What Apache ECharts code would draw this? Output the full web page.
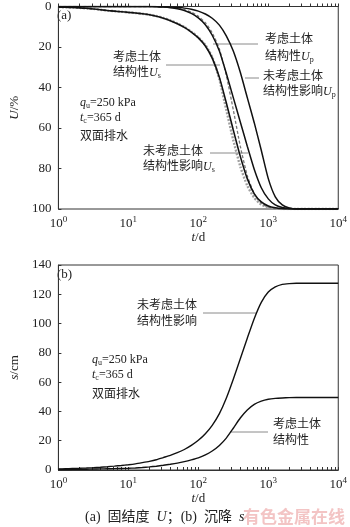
<!DOCTYPE html>
<html><head><meta charset="utf-8">
<script src="https://cdn.jsdelivr.net/npm/echarts@6/dist/echarts.min.js"></script>
<style>html,body{margin:0;padding:0;background:#fff}#c{width:350px;height:527px}</style>
</head><body><div id="c"></div>
<script>
// time (days), even steps in log10(t)
const T = [1,1.26,1.58,2,2.51,3.16,3.98,5.01,6.31,7.94,
           10,12.6,15.8,20,25.1,31.6,39.8,50.1,63.1,79.4,
           100,126,158,200,251,316,398,501,631,794,
           1000,1259,1585,1995,2512,3162,3981,5012,6310,7943,10000];
// (a) degree of consolidation U (%)
const UsConsidered    = [0.3,0.4,0.5,0.7,0.9,1.2,1.6,2.0,2.3,2.6,2.9,3.2,3.6,4.1,4.8,5.8,7.0,8.5,10.3,12.6,15.5,19.5,25.5,35,47.5,61,74,85,92.5,96.5,98.5,99.4,99.8,100,100,100,100,100,100,100,100];
const UsConsideredPts = [0.3,0.4,0.5,0.7,0.9,1.2,1.6,2.0,2.3,2.6,2.9,3.2,3.6,4.1,4.7,5.6,6.8,8.3,10.1,12.4,15.2,19,25,36,51,66,79,88.5,94.5,97.8,99.2,99.8,100,100,100,100,100,100,100,100,100];
const UpConsidered    = [0,0,0,0,0,0,0,0,0,0,0,0,0,0,0.1,0.2,0.4,0.8,1.5,2.8,4.8,8,13,21,34,51,69,83.5,92.5,97.2,99.1,99.8,100,100,100,100,100,100,100,100,100];
const UsUnconsidered  = [0,0,0,0,0,0,0,0,0,0,0,0,0,0,0.1,0.3,0.6,1.1,2,3.4,5.6,9,14.2,22,33,45,57,69,80.5,89.5,95,98,99.3,99.8,100,100,100,100,100,100,100];
const UpUnconsidered  = [0,0,0,0,0,0,0,0,0,0,0,0,0,0,0.05,0.1,0.2,0.4,0.8,1.4,2.3,3.7,5.8,9.2,14.5,22,32.5,45,57.5,71,85,94,98,99.5,100,100,100,100,100,100,100];
// (b) settlement s (cm)
const sUnconsidered = [0.7,0.85,1.0,1.15,1.35,1.6,1.9,2.25,2.65,3.1,3.6,4.2,5.0,5.9,7.0,8.5,10.0,11.8,14.0,16.8,20.3,24.8,30.5,38.5,49,62,76,90,103.5,114.5,121.5,125,126.8,127.3,127.5,127.5,127.5,127.5,127.5,127.5,127.5];
const sConsidered   = [0.3,0.35,0.4,0.47,0.55,0.65,0.75,0.85,0.95,1.05,1.15,1.4,1.7,2.1,2.6,3.2,3.9,4.7,5.7,6.9,8.3,10.3,13.0,16.8,21.8,28.5,35.5,41,44.8,47,48.3,48.9,49.2,49.4,49.5,49.5,49.5,49.5,49.5,49.5,49.5];
// tick values
const xMajor = [1,10,100,1000,10000];

const minorTicks = [];
for (let d = 1; d < 10000; d *= 10) for (let k = 1; k < 10; k++) minorTicks.push(d*k);
minorTicks.push(10000);

const SERIF = 'Liberation Serif, Noto Sans CJK SC';
const pair = (ys) => T.map((t,i)=>[t, ys[i]]);

function xAxisCfg(gi){
  return {
    gridIndex: gi, type:'log', logBase:10, min:1, max:10000,
    axisLine:{show:true, lineStyle:{color:'#333', width:1}},
    axisTick:{show:true, inside:true, length:3, customValues:minorTicks, lineStyle:{color:'#333'}},
    splitLine:{show:false},
    axisLabel:{
      customValues: xMajor, margin:6, color:'#222', fontFamily:SERIF, fontSize:13,
      formatter:(v)=>'10{s|'+Math.round(Math.log10(v))+'}',
      rich:{s:{fontSize:9, fontFamily:SERIF, verticalAlign:'top', padding:[0,0,8,0], color:'#222'}}
    },
    name:'{i|t}/d', nameLocation:'middle', nameGap:19,
    nameTextStyle:{fontFamily:SERIF, fontSize:13, color:'#222', rich:{i:{fontStyle:'italic', fontFamily:SERIF, fontSize:13, color:'#222'}}}
  };
}
function yAxisCfg(gi, max, inverse, name){
  return {
    gridIndex: gi, type:'value', min:0, max:max, interval:20, inverse:inverse,
    axisLine:{show:true, lineStyle:{color:'#333'}},
    axisTick:{show:true, inside:true, length:3, lineStyle:{color:'#333'}},
    splitLine:{show:false},
    axisLabel:{color:'#222', fontFamily:SERIF, fontSize:13, margin:7},
    name:name, nameLocation:'middle', nameGap:33, nameRotate:90,
    nameTextStyle:{fontFamily:SERIF, fontSize:13, color:'#222', rich:{i:{fontStyle:'italic', fontFamily:SERIF, fontSize:13, color:'#222'}}}
  };
}

const chart = echarts.init(document.getElementById('c'), null, {renderer:'canvas'});
const txt = (x,y,text,extra,fs) => Object.assign({type:'text', x:x, y:y, style:Object.assign({
  text:text, fill:'#222', font:(fs||12)+'px '+SERIF, verticalAlign:'middle',
  rich:{
    i:{fontStyle:'italic', fontFamily:SERIF, fontSize:(fs||12), fill:'#222'},
    sub:{fontFamily:SERIF, fontSize:8, verticalAlign:'bottom', padding:[6,0,0,0], fill:'#222'}
  }}, extra||{})});
const ln = (x1,y1,x2,y2) => ({type:'line', shape:{x1:x1,y1:y1,x2:x2,y2:y2}, style:{stroke:'#8a8a8a', lineWidth:1}});

const lineS = (xi, ys, style) => ({type:'line', xAxisIndex:xi, yAxisIndex:xi, data:pair(ys), smooth:0.2, showSymbol:false, lineStyle:style});

chart.setOption({
  animation:false,
  backgroundColor:'#fff',
  grid:[
    {left:49, top:5, width:293, height:204, show:true, borderColor:'#333', borderWidth:1, backgroundColor:'transparent'},
    {left:49, top:265, width:293, height:205, show:true, borderColor:'#333', borderWidth:1, backgroundColor:'transparent'}
  ],
  xAxis:[xAxisCfg(0), xAxisCfg(1)],
  yAxis:[yAxisCfg(0,100,true,'{i|U}/%'), yAxisCfg(1,140,false,'{i|s}/cm')],
  series:[
    lineS(0, UsConsideredPts, {color:'#a0a0a0', width:2.4, type:[2,1.5]}),
    lineS(0, UpConsidered, {color:'#777', width:1.3, type:[3,2]}),
    lineS(0, UsConsidered, {color:'#111', width:1.6}),
    lineS(0, UsUnconsidered, {color:'#111', width:1.5}),
    lineS(0, UpUnconsidered, {color:'#111', width:1.5}),
    lineS(1, sUnconsidered, {color:'#111', width:1.4}),
    lineS(1, sConsidered, {color:'#111', width:1.4})
  ],
  graphic:[
    txt(57,16,'(a)',{font:'13px '+SERIF}),
    txt(113,58,'考虑土体'),
    txt(113,73,'结构性{i|U}{sub|s}'),
    ln(166,65,220,65),
    txt(265,40,'考虑土体'),
    txt(265,57,'结构性{i|U}{sub|p}'),
    ln(213,44,258,44),
    txt(263,77,'未考虑土体'),
    txt(263,92,'结构性影响{i|U}{sub|p}'),
    ln(245,78,259,78),
    txt(143,152,'未考虑土体'),
    txt(143,167,'结构性影响{i|U}{sub|s}'),
    ln(210,153,248,153),
    txt(80,103,'{i|q}{sub|u}=250 kPa'),
    txt(80,118,'{i|t}{sub|c}=365 d'),
    txt(80,137,'双面排水'),
    txt(57,275,'(b)',{font:'13px '+SERIF}),
    txt(137,306,'未考虑土体'),
    txt(137,322,'结构性影响'),
    ln(203,313,256,313),
    txt(92,360,'{i|q}{sub|u}=250 kPa'),
    txt(92,375,'{i|t}{sub|c}=365 d'),
    txt(92,395,'双面排水'),
    txt(273,425,'考虑土体'),
    txt(273,441,'结构性'),
    ln(230,432,268,432),
    txt(85,517,'(a)  固结度  {i|U}；(b)  沉降  {i|s}',{font:'14px '+SERIF},14),
    txt(243,517,'有色金属在线',{font:'bold 17px Noto Sans CJK SC', fill:'#f3c4c4'})
  ]
});
</script></body></html>
